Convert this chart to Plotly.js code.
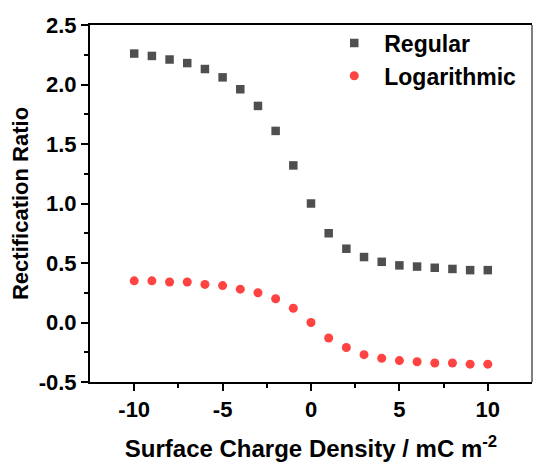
<!DOCTYPE html>
<html>
<head>
<meta charset="utf-8">
<script src="https://cdn.plot.ly/plotly-3.0.1.min.js"></script>
<style>html,body{margin:0;padding:0;background:#fff;}#chart{width:533px;height:462px;}</style>
</head>
<body>
<div id="chart"></div>
<script>
const charge = [-10, -9, -8, -7, -6, -5, -4, -3, -2, -1, 0, 1, 2, 3, 4, 5, 6, 7, 8, 9, 10];
const regular = [2.26, 2.24, 2.21, 2.18, 2.13, 2.06, 1.96, 1.82, 1.61, 1.32, 1.00, 0.75, 0.62, 0.55, 0.51, 0.48, 0.47, 0.46, 0.45, 0.44, 0.44];
const logarithmic = [0.35, 0.35, 0.34, 0.34, 0.32, 0.31, 0.28, 0.25, 0.20, 0.12, 0.00, -0.13, -0.21, -0.27, -0.30, -0.32, -0.33, -0.34, -0.34, -0.35, -0.35];
const seriesNames = ['Regular', 'Logarithmic'];
const xTickVals = [-10, -5, 0, 5, 10];
const xTickText = ['-10', '-5', '0', '5', '10'];
const yTickVals = [-0.5, 0, 0.5, 1, 1.5, 2, 2.5];
const yTickText = ['-0.5', '0.0', '0.5', '1.0', '1.5', '2.0', '2.5'];

const font = {family: '"Liberation Sans", Arial, sans-serif', color: '#000'};
const traces = [
  {x: charge, y: regular, name: seriesNames[0], type: 'scatter', mode: 'markers',
   marker: {symbol: 'square', size: 8.5, color: '#4f4f4f'}},
  {x: charge, y: logarithmic, name: seriesNames[1], type: 'scatter', mode: 'markers',
   marker: {symbol: 'circle', size: 9, color: '#ff4242'}}
];
const axisCommon = {
  showgrid: false, zeroline: false, showline: true, linecolor: '#000', linewidth: 2,
  ticks: 'outside', ticklen: 7, tickwidth: 2, tickcolor: '#000',
  tickfont: Object.assign({size: 22, weight: 'bold'}, font)
};
const layout = {
  width: 533, height: 462,
  margin: {l: 90, r: 1, t: 25, b: 80},
  paper_bgcolor: '#fff', plot_bgcolor: '#fff',
  font: font,
  xaxis: Object.assign({}, axisCommon, {
    range: [-12.5, 12.5], tickmode: 'array', tickvals: xTickVals, ticktext: xTickText, mirror: true,
    minor: {tickvals: [-7.5, -2.5, 2.5, 7.5], ticks: 'outside', ticklen: 4, tickwidth: 2, tickcolor: '#000'},
    title: {text: 'Surface Charge Density / mC m<sup>-2</sup>', font: Object.assign({size: 24, weight: 'bold'}, font), standoff: 19}
  }),
  yaxis: Object.assign({}, axisCommon, {
    range: [-0.5, 2.5], tickmode: 'array', tickvals: yTickVals, ticktext: yTickText,
    minor: {tickvals: [-0.25, 0.25, 0.75, 1.25, 1.75, 2.25], ticks: 'outside', ticklen: 4, tickwidth: 2, tickcolor: '#000'},
    title: {text: 'Rectification Ratio', font: Object.assign({size: 22, weight: 'bold'}, font), standoff: 4}
  }),
  showlegend: true,
  legend: {x: 0.53, y: 1.01, xanchor: 'left', yanchor: 'top', bgcolor: 'rgba(0,0,0,0)',
           font: Object.assign({size: 23, weight: 'bold'}, font), itemwidth: 50},
  shapes: [{type: 'line', xref: 'paper', yref: 'paper', x0: 1, x1: 1, y0: 0, y1: 1,
            line: {color: '#555', width: 1.5}}]
};
Plotly.newPlot('chart', traces, layout, {displayModeBar: false, staticPlot: true});
</script>
</body>
</html>
